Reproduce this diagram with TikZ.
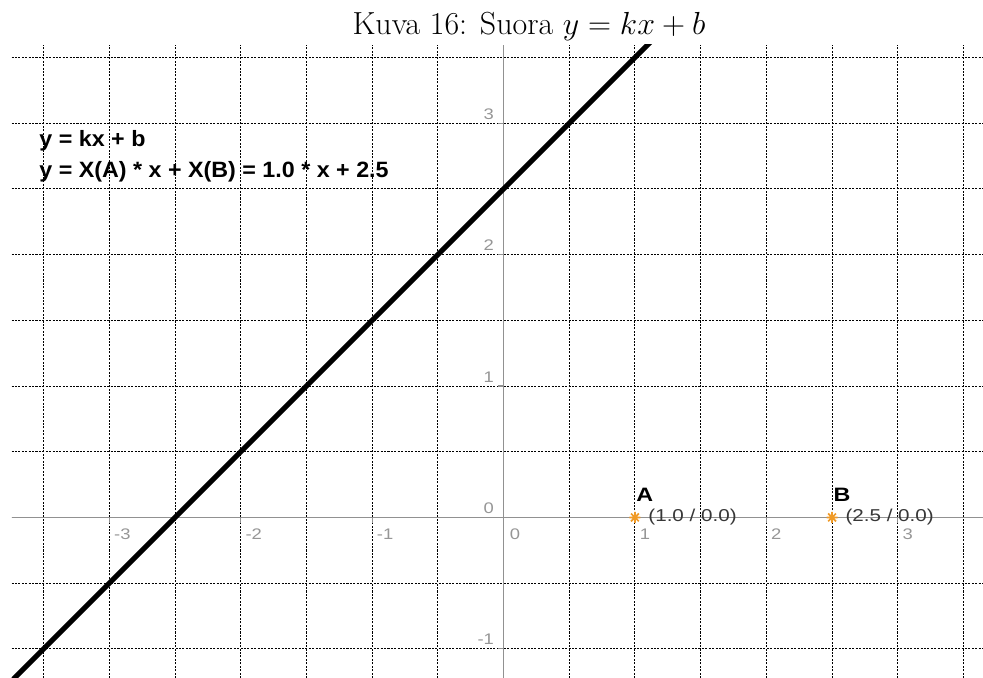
\documentclass[tikz,border=0pt]{standalone}
\usepackage{fontspec}
\usepackage{tikz}
\newfontfamily\ggbfont[FakeStretch=1.2]{Liberation Sans}
\newfontfamily\ggbeqfont[FakeStretch=1.05]{Liberation Sans}
\definecolor{ggbaxis}{RGB}{145,145,145}
\definecolor{ggblabel}{RGB}{150,150,150}
\definecolor{ggborange}{RGB}{240,155,40}
\definecolor{ggbtext}{RGB}{55,55,55}

\begin{document}
\begin{tikzpicture}[x=2.5cm, y=2.5cm,
      gridline/.style={draw=black, line width=0.5pt, dash pattern=on 1.1pt off 0.75pt},
      axisline/.style={draw=ggbaxis, line width=0.6pt},
      xlbl/.style={anchor=north west, inner sep=0pt, text=ggblabel, font=\ggbfont\fontsize{8.3}{10}\selectfont},
      ylbl/.style={anchor=south east, inner sep=0pt, text=ggblabel, font=\ggbfont\fontsize{8.3}{10}\selectfont},
      eqtext/.style={anchor=base west, inner sep=0pt, font=\ggbeqfont\bfseries\fontsize{12}{14}\selectfont},
      ptname/.style={anchor=south west, inner sep=0pt, font=\ggbfont\bfseries\fontsize{10.5}{12}\selectfont},
      ptcoord/.style={anchor=west, inner sep=0pt, text=ggbtext, font=\ggbfont\fontsize{9.3}{11}\selectfont},
      ptmark/.style={draw=ggborange, line width=0.9pt},
      fnline/.style={draw=black, line width=2.8pt}
    ]
      % Frame and caption
      \fill[white] (-3.832,-1.2215) rectangle (3.649,3.938);
      \useasboundingbox (-3.832,-1.2215) rectangle (3.649,3.938);
      \node[anchor=base, inner sep=0pt, font=\fontsize{17.28}{20}\selectfont] (title) at (0.194, 3.672) {Kuva 16: Suora $y = kx + b$};

      % Grid and axes
      \draw[gridline] (-3.744,-1.2215) grid[step=0.5] (3.649,3.596);
      \coordinate (xlo) at (-3.744, 0);
      \coordinate (xhi) at (3.649, 0);
      \coordinate (ylo) at (0, -1.2215);
      \coordinate (yhi) at (0, 3.596);
      \draw[axisline] (xlo) -- (xhi);
      \draw[axisline] (ylo) -- (yhi);
      \draw[axisline] (-3,0) -- (-3,-0.045) (-2,0) -- (-2,-0.045) (-1,0) -- (-1,-0.045)
        (1,0) -- (1,-0.045) (2,0) -- (2,-0.045) (3,0) -- (3,-0.045)
        (0,-1) -- (-0.045,-1) (0,1) -- (-0.045,1) (0,2) -- (-0.045,2) (0,3) -- (-0.045,3);

      % Tick labels
      \node[xlbl] (xm3) at (-2.966,-0.082) {-3};
      \node[xlbl] (xm2) at (-1.966,-0.082) {-2};
      \node[xlbl] (xm1) at (-0.966,-0.082) {-1};
      \node[xlbl] (x0) at (0.045,-0.082) {0};
      \node[xlbl] (x1) at (1.034,-0.082) {1};
      \node[xlbl] (x2) at (2.034,-0.082) {2};
      \node[xlbl] (x3) at (3.034,-0.082) {3};
      \node[ylbl] (ym1) at (-0.07,-0.973) {-1};
      \node[ylbl] (y0) at (-0.07,0.027) {0};
      \node[ylbl] (y1) at (-0.07,1.027) {1};
      \node[ylbl] (y2) at (-0.07,2.027) {2};
      \node[ylbl] (y3) at (-0.07,3.027) {3};

      % Line y = x + 2.5
      \coordinate (lnlo) at (-3.8,-1.3);
      \coordinate (lnhi) at (1.2,3.7);
      \begin{scope}
        \clip (-3.744,-1.2215) rectangle (3.649,3.596);
        \draw[fnline] (lnlo) -- (lnhi);
      \end{scope}

      % Equation text
      \node[eqtext] (eqgen) at (-3.535,2.820) {y = kx + b};
      \node[eqtext] (eqval) at (-3.535,2.588) {y = X(A) * x + X(B) = 1.0 * x + 2.5};

      % Points A and B
      \coordinate (ptA) at (1,0);
      \coordinate (ptB) at (2.5,0);
      \draw[ptmark] (ptA) +(0:0.042) -- +(180:0.042) +(90:0.042) -- +(270:0.042)
        +(45:0.042) -- +(225:0.042) +(135:0.042) -- +(315:0.042);
      \draw[ptmark] (ptB) +(0:0.042) -- +(180:0.042) +(90:0.042) -- +(270:0.042)
        +(45:0.042) -- +(225:0.042) +(135:0.042) -- +(315:0.042);
      \node[ptname] (nameA) at (1.009,0.12) {A};
      \node[ptname] (nameB) at (2.509,0.12) {B};
      \node[ptcoord] (crdA) at (1.1,0) {(1.0 / 0.0)};
      \node[ptcoord] (crdB) at (2.6,0) {(2.5 / 0.0)};
    \end{tikzpicture}
\end{document}
